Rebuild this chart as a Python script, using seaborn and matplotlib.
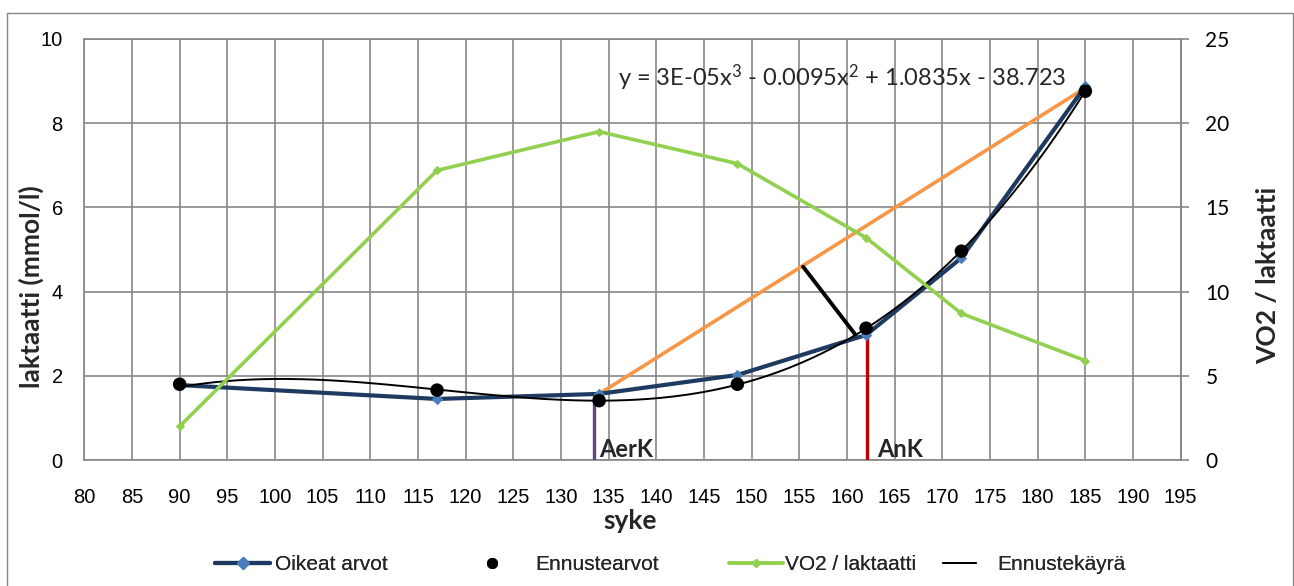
import numpy as np
import pandas as pd
import matplotlib
matplotlib.use("Agg")
import matplotlib.pyplot as plt
import seaborn as sns
from matplotlib.lines import Line2D
from matplotlib.patches import Rectangle

# ---------------- data ----------------
syke = [90, 117, 134, 148.5, 162, 172, 185]
oikeat_arvot = [1.78, 1.45, 1.57, 2.02, 2.97, 4.80, 8.88]
ennustearvot = [1.80, 1.66, 1.41, 1.80, 3.13, 4.96, 8.76]
vo2_laktaatti = [2.0, 17.2, 19.5, 17.6, 13.2, 8.7, 5.9]

# helper construction lines (threshold determination)
orange_x = [134, 185]
orange_y = [1.57, 8.84]
perp_x = [155.4, 160.9]
perp_y = [4.59, 2.97]
aerk_x = [133.5, 133.5]
aerk_y = [0, 1.52]
ank_x = [162.1, 162.1]
ank_y = [0, 2.95]

x_ticks = list(range(80, 200, 5))
yl_ticks = [0, 2, 4, 6, 8, 10]
yr_ticks = [0, 5, 10, 15, 20, 25]
equation = r"y = 3E-05x$^{3}$ - 0.0095x$^{2}$ + 1.0835x - 38.723"

# ---------------- style ----------------
sns.set_theme(style="white")
plt.rcParams['font.family'] = ['Liberation Sans', 'DejaVu Sans']
plt.rcParams['mathtext.fontset'] = 'custom'
plt.rcParams['mathtext.rm'] = 'Lato'
plt.rcParams['mathtext.it'] = 'Lato'
plt.rcParams['mathtext.default'] = 'regular'
GRID = '#878787'
BLUE = '#1F3A60'
BLUE_M = '#4A7EBB'
GREEN = '#92D050'
ORANGE = '#F79646'
PURPLE = '#604A7B'
RED = '#C00000'
CAL = ['Lato', 'DejaVu Sans']

W, H = 1294, 586
fig = plt.figure(figsize=(W / 100, H / 100), dpi=100)
x0, x1, ytop, ybot = 84.3, 1180.7, 39, 460
ax = fig.add_axes([x0 / W, 1 - ybot / H, (x1 - x0) / W, (ybot - ytop) / H])
ax2 = ax.twinx()

ax.set_xlim(80, 195)
ax.set_ylim(0, 10)
ax2.set_ylim(0, 25)
ax.set_xticks(x_ticks)
ax.set_yticks(yl_ticks)
ax2.set_yticks(yr_ticks)
ax.grid(True, color=GRID, lw=1.2)
ax.set_axisbelow(True)
for s in ax.spines.values():
    s.set_color(GRID); s.set_linewidth(1.2)
for s in ax2.spines.values():
    s.set_visible(False)
ax2.spines['right'].set_visible(True)
ax2.spines['right'].set_color(GRID)
ax2.spines['right'].set_linewidth(1.2)

ax.tick_params(axis='x', length=0, pad=20, labelsize=14.5, colors='black')
ax.tick_params(axis='y', length=0, pad=15.5, labelsize=14.5, colors='black')
ax2.tick_params(axis='y', length=5.8, width=1.2, color=GRID, pad=12, labelsize=15, labelcolor='black')
for lab in ax2.get_yticklabels():
    lab.set_family(CAL)

# ---------------- marks ----------------
sns.lineplot(x=aerk_x, y=aerk_y, ax=ax, color=PURPLE, lw=2.4, zorder=3,
             estimator=None, sort=False)
sns.lineplot(x=ank_x, y=ank_y, ax=ax, color=RED, lw=2.4, zorder=3,
             estimator=None, sort=False)
sns.lineplot(x=orange_x, y=orange_y, ax=ax, color=ORANGE, lw=2.6, zorder=3)
sns.lineplot(x=perp_x, y=perp_y, ax=ax, color='black', lw=2.8, zorder=3)

sns.lineplot(x=syke, y=oikeat_arvot, ax=ax, color=BLUE, lw=3.0, marker='D',
             markersize=5.5, markerfacecolor=BLUE_M, markeredgecolor=BLUE_M, zorder=4)

coef = np.polyfit(syke, oikeat_arvot, 3)
xs = np.linspace(min(syke), max(syke), 300)
sns.lineplot(x=xs, y=np.polyval(coef, xs), ax=ax, color='black', lw=1.4, zorder=5)

sns.scatterplot(x=syke, y=ennustearvot, ax=ax, color='black', s=95, edgecolor='none', zorder=6)

sns.lineplot(x=syke, y=vo2_laktaatti, ax=ax2, color=GREEN, lw=2.6, marker='D',
             markersize=4, markerfacecolor=GREEN, markeredgecolor=GREEN, zorder=4)
ax2.set_ylim(0, 25)

ax.set_xlabel('')
ax.set_ylabel('')
ax2.set_ylabel('')

# ---------------- texts ----------------
ax.text(134.0, 0.07, 'AerK', family=CAL, fontweight='bold', fontsize=17, va='baseline', zorder=7)
ax.text(163.2, 0.07, 'AnK', family=CAL, fontweight='bold', fontsize=17, va='baseline', zorder=7)
ax.text(159.5, 9.07, equation, family=CAL, fontsize=17, ha='center', va='center', zorder=7)

fig.text(31 / W, 1 - 287 / H, 'laktaatti (mmol/l)', family=CAL, fontweight='bold',
         fontsize=19, rotation=90, ha='center', va='center')
fig.text(1268 / W, 1 - 275 / H, 'VO2 / laktaatti', family=CAL, fontweight='bold',
         fontsize=19, rotation=90, ha='center', va='center')
fig.text(630 / W, 1 - 521 / H, 'syke', family=CAL, fontweight='bold',
         fontsize=19, ha='center', va='center')

# ---------------- legend ----------------
fs = 15
px = fs * 100 / 72
entries = [
    (Line2D([], [], color=BLUE, lw=3.0, marker='D', markersize=6, markerfacecolor=BLUE_M,
            markeredgecolor=BLUE_M), 'Oikeat arvot', 215, 55, 5),
    (Line2D([], [], color='black', lw=0, marker='o', markersize=7), 'Ennustearvot', 472, 40, 23),
    (Line2D([], [], color=GREEN, lw=2.6, marker='D', markersize=4, markerfacecolor=GREEN,
            markeredgecolor=GREEN), 'VO2 / laktaatti', 729, 54, 2),
    (Line2D([], [], color='black', lw=1.4), 'Ennustekäyrä', 943, 33, 21),
]
for h, lab, xl, hl, tp in entries:
    leg = fig.legend(handles=[h], labels=[lab], loc='center left',
                     bbox_to_anchor=(xl / W, 1 - 565 / H), frameon=False,
                     fontsize=fs, handlelength=hl / px, handletextpad=tp / px,
                     borderpad=0, borderaxespad=0)
    fig.add_artist(leg)

# outer border
fig.add_artist(Rectangle((7 / W, -0.05), (1293.3 - 7) / W, 1.05 - 13 / H,
                         transform=fig.transFigure, fill=False, edgecolor=GRID, lw=1.0))

fig.savefig('out.png', dpi=100)
